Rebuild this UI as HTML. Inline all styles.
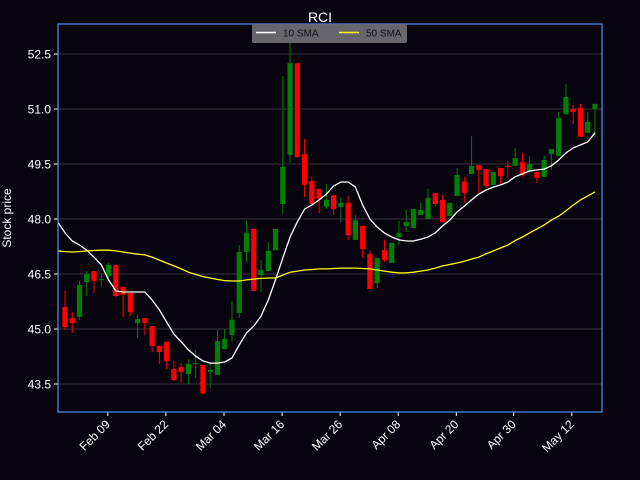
<!DOCTYPE html>
<html><head><meta charset="utf-8">
<style>
html,body{margin:0;padding:0;background:#07040f;}
svg{display:block;font-family:"Liberation Sans","DejaVu Sans",sans-serif;}
</style></head>
<body>
<svg id="chart" width="640" height="480" viewBox="0 0 640 480" xmlns="http://www.w3.org/2000/svg">
<defs><clipPath id="plotclip"><rect x="58" y="24" width="544" height="388"/></clipPath></defs>
<rect x="0" y="0" width="640" height="480" fill="#07040f"/>
<text x="320" y="22" fill="#ffffff" font-size="14" text-anchor="middle">RCI</text>
<text transform="translate(11,218) rotate(-90)" fill="#ffffff" font-size="12" text-anchor="middle">Stock price</text>
<g id="grid"></g>
<g id="yticks"></g>
<g id="xticks"></g>
<g id="candles"></g>
<g id="lines" clip-path="url(#plotclip)"></g>
<rect x="58" y="24" width="544" height="388" fill="none" stroke="#4f8ff0" stroke-width="1.2"/>
<g>
<rect x="252" y="24" width="155" height="19" rx="2" fill="#6e6b73" fill-opacity="0.95"/>
<line x1="256" y1="32.5" x2="276" y2="32.5" stroke="#ffffff" stroke-width="1.5"/>
<text x="283" y="36.5" fill="#111" font-size="10">10 SMA</text>
<line x1="339" y1="32.5" x2="359" y2="32.5" stroke="#ffff00" stroke-width="1.5"/>
<text x="366" y="36.5" fill="#111" font-size="10">50 SMA</text>
</g>
</svg>
<script>
const opens=[45.60,45.30,45.33,46.28,46.58,46.34,46.45,46.75,46.15,45.98,45.16,45.30,45.08,44.54,44.65,43.91,43.96,43.77,44.05,44.02,43.83,43.75,44.45,44.84,45.44,47.10,47.73,46.47,46.58,47.15,48.41,49.75,52.25,49.77,49.04,48.82,48.33,48.65,48.33,48.44,47.43,47.81,47.05,46.25,47.15,46.80,47.51,47.81,47.75,48.11,48.00,48.71,48.52,48.08,48.63,49.02,49.23,49.47,49.36,48.93,49.39,49.45,49.45,49.55,49.28,49.28,49.15,49.77,49.72,50.86,51.00,51.03,50.35,51.00];
const highs=[46.04,45.46,46.31,46.58,46.58,46.53,46.80,46.75,46.15,45.98,45.38,45.30,45.08,44.54,44.65,44.13,44.07,44.18,44.43,44.02,44.10,44.97,45.00,45.76,47.29,47.95,47.73,46.88,47.37,47.73,51.90,52.83,52.25,50.18,49.15,48.82,48.95,48.65,48.60,48.63,48.11,47.81,47.15,46.94,47.43,47.35,47.95,48.25,48.27,48.44,48.82,48.71,48.65,48.44,49.39,49.15,50.26,49.47,49.36,49.34,49.39,49.58,49.94,49.80,49.72,49.28,49.72,49.91,50.92,51.68,51.11,51.14,50.92,51.14];
const lows=[44.97,44.89,45.25,45.90,45.98,46.15,46.39,45.87,45.33,45.35,44.75,44.84,44.37,44.05,43.91,43.58,43.53,43.50,43.66,43.20,43.39,43.75,44.45,44.65,45.30,46.83,46.04,46.01,46.58,47.15,48.14,49.53,49.66,48.60,48.41,48.16,48.27,48.11,47.92,47.43,47.43,46.94,46.09,46.12,46.83,46.80,47.29,47.65,47.75,48.11,48.00,48.33,47.92,48.08,48.63,48.44,49.23,48.71,48.85,48.93,48.95,49.12,49.45,49.15,49.28,48.98,49.15,49.34,49.72,50.86,50.59,50.24,50.35,50.24];
const closes=[45.05,45.16,46.20,46.50,46.31,46.36,46.75,45.90,45.93,45.46,45.27,45.16,44.54,44.37,44.13,43.61,43.83,44.05,44.07,43.25,43.88,44.67,44.73,45.25,47.10,47.62,46.04,46.61,47.13,47.73,49.42,52.25,49.69,48.93,48.41,48.55,48.52,48.27,48.44,47.56,47.97,47.18,46.09,46.94,46.88,47.35,47.62,47.92,48.27,48.25,48.57,48.41,47.92,48.44,49.20,48.71,49.45,49.34,48.90,49.28,49.17,49.42,49.66,49.20,49.50,49.12,49.61,49.91,50.75,51.33,50.92,50.24,50.65,51.14];
// SMA arrays start one session before the first visible candle (index -1)
const sma10=[47.92,47.62,47.40,47.29,47.15,46.96,46.75,46.34,46.04,46.01,46.01,46.01,46.01,45.79,45.52,45.19,44.86,44.65,44.43,44.26,44.13,44.07,44.07,44.10,44.21,44.56,44.89,45.08,45.35,45.79,46.34,46.94,47.51,47.92,48.27,48.38,48.52,48.68,48.90,49.01,49.01,48.87,48.38,48.00,47.78,47.62,47.51,47.43,47.40,47.40,47.45,47.51,47.62,47.81,47.97,48.19,48.35,48.52,48.68,48.79,48.87,48.93,49.01,49.15,49.23,49.31,49.34,49.36,49.45,49.61,49.80,49.94,50.02,50.10,50.35];
const sma50=[47.13,47.11,47.10,47.11,47.13,47.14,47.15,47.15,47.13,47.10,47.07,47.04,47.02,46.96,46.88,46.80,46.72,46.64,46.55,46.49,46.43,46.39,46.35,46.32,46.31,46.31,46.34,46.36,46.38,46.39,46.39,46.47,46.55,46.58,46.61,46.62,46.64,46.64,46.65,46.66,46.66,46.66,46.65,46.64,46.61,46.58,46.55,46.53,46.53,46.55,46.58,46.61,46.66,46.72,46.76,46.80,46.85,46.91,46.96,47.05,47.13,47.21,47.29,47.41,47.51,47.62,47.73,47.84,47.97,48.08,48.22,48.38,48.52,48.63,48.74];
const smaStart=-1;
const yTickValues=[43.5,45.0,46.5,48.0,49.5,51.0,52.5];
const yTickLabels=["43.5","45.0","46.5","48.0","49.5","51.0","52.5"];
const xTickIndex=[5.9,13.9,21.9,29.9,37.9,45.9,53.9,61.8,69.8];
const xTickLabels=["Feb 09","Feb 22","Mar 04","Mar 16","Mar 26","Apr 08","Apr 20","Apr 30","May 12"];

const NS="http://www.w3.org/2000/svg";
function yPos(v){return 54+(52.5-v)*36.667;}
function xPos(i){return 65+i*7.26;}
function mk(tag,attrs,parent){const e=document.createElementNS(NS,tag);for(const k in attrs)e.setAttribute(k,attrs[k]);parent.appendChild(e);return e;}

const grid=document.getElementById('grid'),yt=document.getElementById('yticks'),xt=document.getElementById('xticks');
yTickValues.forEach((v,k)=>{
  const y=yPos(v);
  const g=mk('line',{x1:58,x2:602,y1:y,y2:y,stroke:'#3a3640','stroke-width':1},grid);
  
  
  const t=mk('line',{x1:54,x2:58,y1:y,y2:y,stroke:'#ffffff','stroke-width':1},yt);
  
  
  const l=mk('text',{x:51,y:y+4.5,fill:'#ffffff','font-size':12,'text-anchor':'end'},yt);
  l.textContent=yTickLabels[k];
  
  
});
xTickIndex.forEach((ix,k)=>{
  const x=xPos(ix);
  const t=mk('line',{x1:x,x2:x,y1:412,y2:416,stroke:'#ffffff','stroke-width':1},xt);
  
  
  const l=mk('text',{x:0,y:0,fill:'#ffffff','font-size':12,'text-anchor':'end',transform:'translate('+(x+3)+',425) rotate(-45)'},xt);
  l.textContent=xTickLabels[k];
  
  
});
const cg=document.getElementById('candles');
opens.forEach((o,i)=>{
  const c=closes[i],x=xPos(i),up=c>=o,col=up?'#008000':'#ff0000';
  const w=mk('line',{x1:x,x2:x,y1:yPos(highs[i]),y2:yPos(lows[i]),stroke:col,'stroke-width':1},cg);
  
  
  const top=yPos(Math.max(o,c)),bot=yPos(Math.min(o,c));
  const b=mk('rect',{x:x-2.6,y:top,width:5.2,height:Math.max(1,bot-top),fill:col},cg);
  
  
});
const lg=document.getElementById('lines');
function path(arr,col,name){
  const d=arr.map((v,i)=>(i?'L':'M')+xPos(i+smaStart).toFixed(1)+','+yPos(v).toFixed(1)).join(' ');
  const p=mk('path',{d:d,fill:'none',stroke:col,'stroke-width':1.3},lg);
  
  
}
path(sma10,'#ffffff','sma-10-line');
path(sma50,'#ffff00','sma-50-line');
</script>
</body></html>
